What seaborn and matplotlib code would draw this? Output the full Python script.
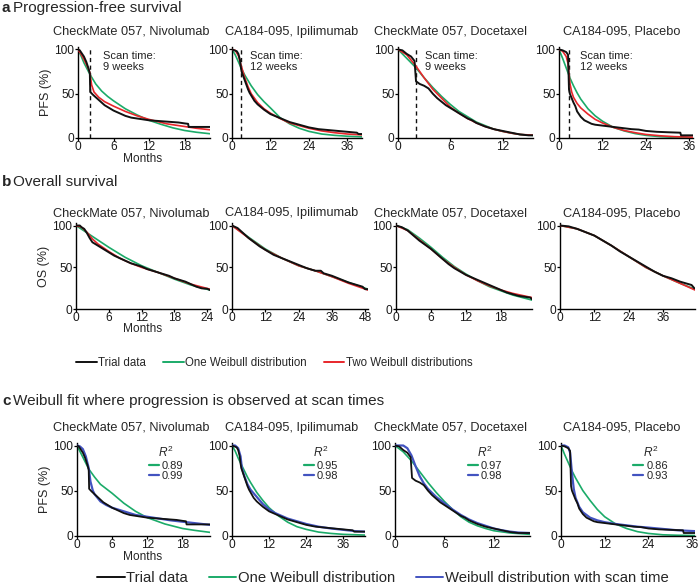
import numpy as np
import pandas as pd
import matplotlib
matplotlib.use("Agg")
import matplotlib.pyplot as plt
from matplotlib.lines import Line2D
import seaborn as sns

sns.set_style("ticks")
plt.rcParams['font.family'] = ['Liberation Sans', 'DejaVu Sans']
plt.rcParams['mathtext.fontset'] = 'custom'
plt.rcParams['mathtext.rm'] = 'Liberation Sans'
plt.rcParams['mathtext.it'] = 'Liberation Sans:italic'

# ---------------- data ----------------
titles = ["CheckMate 057, Nivolumab", "CA184-095, Ipilimumab",
          "CheckMate 057, Docetaxel", "CA184-095, Placebo"]
scan_weeks = [9, 12, 9, 12]
scan_months = [2.07, 2.76, 2.07, 2.76]
pfs_xmax_a = [22.3, 40.6, 15.5, 37.0]
pfs_xmax_c = [22.7, 43.0, 16.4, 36.8]
os_xmax = [24.5, 49.0, 23.3, 47.2]
pfs_xticks = [[0, 6, 12, 18], [0, 12, 24, 36], [0, 6, 12], [0, 12, 24, 36]]
os_xticks = [[0, 6, 12, 18, 24], [0, 12, 24, 36, 48], [0, 6, 12, 18], [0, 12, 24, 36]]
yticks = [0, 50, 100]
r2_one = ["0.89", "0.95", "0.97", "0.86"]
r2_scan = ["0.99", "0.98", "0.98", "0.93"]

# PFS trial data (Kaplan-Meier)
niv_pfs_t = [0, 0.3, 0.6, 1.0, 1.4, 1.8, 2.0, 2.07, 2.5, 3.0, 3.5, 4.0, 4.5, 5.0, 5.5, 6.0, 7.0, 8.0, 9.0,
             10.0, 11.0, 12.0, 13.0, 14.0, 15.0, 16.0, 17.0, 18.0, 18.6, 18.7, 21.0, 22.7]
niv_pfs_s = [100, 99, 96, 92, 86, 78, 73, 52, 49, 46, 43, 40, 37, 35, 33, 31, 28, 25, 23,
             22, 21, 20, 19.5, 19, 18.5, 18, 17.5, 16.5, 16, 12.5, 12.5, 12.5]
ipi_pfs_t = [0, 1.5, 2.0, 2.5, 2.76, 3.0, 3.5, 4.0, 4.5, 5.0, 5.5, 6.0, 7.0, 8.0, 9.0, 10.0, 11.0, 12.0,
             13.0, 14.0, 16.0, 18.0, 20.0, 22.0, 24.0, 27.0, 30.0, 33.0, 36.0, 39.0, 39.5, 43.0]
ipi_pfs_s = [100, 98, 95, 88, 80, 75, 70, 65, 60, 55, 51, 48, 42, 38, 35, 32, 29.5, 27,
             25.5, 24, 21, 18, 16, 14, 12, 10, 9, 8, 7, 6, 4.5, 4.5]
doc_pfs_t = [0, 0.5, 1.0, 1.5, 1.9, 2.07, 2.5, 3.0, 3.5, 4.0, 4.5, 5.0, 5.5, 6.0, 6.5, 7.0, 7.5, 8.0,
             8.5, 9.0, 9.5, 10.0, 11.0, 12.0, 13.0, 14.0, 15.0, 16.4]
doc_pfs_s = [100, 99, 95, 92, 87, 64, 61, 59, 56, 50, 45, 41, 37, 34, 31, 28, 25, 22,
             20, 17, 15, 13, 10, 8, 6, 4, 3, 3]
pla_pfs_t = [0, 1, 2, 2.5, 2.76, 3.0, 3.5, 4.0, 4.5, 5.0, 5.5, 6.0, 7.0, 8.0, 9.0, 10.0, 12.0, 14.0,
             16.0, 18.0, 20.0, 22.0, 24.0, 27.0, 30.0, 33.5, 33.7, 37.0]
pla_pfs_s = [100, 99, 97, 94, 55, 50, 45, 40, 36, 30, 27, 24, 20, 18, 16, 15, 14, 13,
             12, 11, 10, 9.5, 8, 7, 6.5, 6, 3, 3]

# PFS one-Weibull fits (panel a)
niv_w1_t = [0, 0.5, 1, 2, 3, 4, 5, 6, 8, 10, 12, 14, 16, 18, 20, 22.7]
niv_w1_s = [100, 93, 85, 72, 61, 53, 47, 42, 33, 26, 20, 15.5, 11.5, 8.5, 6.5, 4.5]
ipi_w1_t = [0, 1, 2, 3, 4, 6, 8, 10, 12, 15, 18, 21, 24, 28, 32, 36, 43]
ipi_w1_s = [100, 94, 86, 78, 71, 59, 49, 41, 34, 23, 16, 11, 7.5, 4.5, 3, 2, 1]
doc_w1_t = [0, 1, 2, 3, 4, 5, 6, 7, 8, 9, 10, 11, 12, 13, 14, 16.4]
doc_w1_s = [100, 90, 80, 68, 57, 47, 38, 30, 24, 18, 14, 10, 7.5, 5.5, 4, 2.3]
pla_w1_t = [0, 1, 2, 3, 4, 5, 6, 8, 10, 12, 15, 18, 21, 24, 28, 32, 37]
pla_w1_s = [100, 90, 79, 68, 59, 51, 44, 33, 25, 19, 12, 8, 5, 3, 1.5, 0.7, 0.3]

# PFS two-Weibull fits (panel a)
niv_w2_t = [0, 0.5, 1, 1.5, 2, 2.3, 2.7, 3.5, 4.5, 6, 8, 10, 12, 15, 18, 20, 22.7]
niv_w2_s = [100, 95, 89, 82, 74, 60, 52, 46, 41, 36, 30, 25, 21, 16, 13, 11, 9]
ipi_w2_t = [0, 1, 2, 3, 4, 5, 6, 8, 10, 12, 15, 18, 21, 24, 28, 32, 36, 43]
ipi_w2_s = [100, 99, 93, 80, 68, 58, 50, 40, 33, 28, 22, 17, 14, 11, 8, 6, 4.5, 3]
doc_w2_t = [0, 1, 2, 3, 4, 5, 6, 7, 8, 9, 10, 11, 12, 13, 14, 16.4]
doc_w2_s = [100, 94, 82, 68, 55, 45, 35, 28, 22, 17, 13, 10, 7.5, 5.5, 4, 2.8]
pla_w2_t = [0, 1, 2, 2.5, 2.76, 3, 3.5, 4, 5, 6, 8, 10, 12, 15, 18, 21, 24, 28, 32, 37]
pla_w2_s = [100, 98, 92, 84, 72, 62, 52, 46, 39, 34, 27, 21, 17, 12, 8.5, 6, 4, 2.5, 1.5, 1]

# OS trial data
niv_os_t = [0, 0.7, 1, 1.5, 2, 2.5, 3, 4, 5, 6, 7, 8, 9, 10, 11, 12, 13, 14, 15, 16, 17, 18, 19, 20,
            21, 22, 23, 24, 24.5]
niv_os_s = [100, 100, 98, 96, 91, 85, 80, 76, 72, 68, 64, 61, 58, 55, 53, 51, 48, 46, 44, 42, 40, 37,
            35, 33, 30, 27, 25, 24.5, 23]
ipi_os_t = [0, 2, 4, 6, 8, 10, 12, 15, 18, 21, 24, 27, 30, 32, 33, 36, 39, 42, 45, 47, 48, 49]
ipi_os_s = [100, 97, 91, 85, 80, 75, 71, 65, 61, 57, 53, 49, 46, 46, 43, 40, 36, 32, 29, 27, 24, 24]
doc_os_t = [0, 1, 2, 3, 4, 5, 6, 7, 8, 9, 10, 11, 12, 13, 14, 15, 16, 17, 18, 19, 20, 21, 22, 23, 23.3]
doc_os_s = [100, 98, 94, 88, 82, 77, 72, 66, 60, 54, 49, 45, 41, 38, 35, 32, 29, 26, 23, 20, 18, 16,
            15, 14, 12]
pla_os_t = [0, 3, 6, 9, 12, 15, 18, 21, 24, 27, 30, 33, 36, 39, 42, 44, 46, 47]
pla_os_s = [100, 99, 96, 92, 88, 82, 76, 69, 63, 57, 51, 45, 40, 37, 33, 31, 29, 25]

# OS one-Weibull fits
niv_os_w1_t = [0, 3, 6, 9, 12, 15, 18, 21, 24.5]
niv_os_w1_s = [100, 87, 74, 62, 52, 44, 36, 29, 23]
ipi_os_w1_t = [0, 6, 12, 18, 24, 30, 36, 42, 49]
ipi_os_w1_s = [100, 86, 72, 61, 52, 46, 39, 32, 24]
doc_os_w1_t = [0, 2, 4, 6, 8, 10, 12, 14, 16, 18, 20, 23.3]
doc_os_w1_s = [100, 95, 85, 74, 62, 51, 42, 34, 27, 22, 17, 11]
pla_os_w1_t = [0, 6, 12, 18, 24, 30, 36, 42, 47.2]
pla_os_w1_s = [100, 96, 88, 76, 63, 50, 40, 31, 24]

# OS two-Weibull fits
niv_os_w2_t = [0, 1, 2, 3, 4, 6, 8, 10, 12, 15, 18, 21, 24.5]
niv_os_w2_s = [100, 98, 92, 84, 78, 69, 61, 55, 50, 44, 37, 30, 24]
ipi_os_w2_t = [0, 6, 12, 18, 24, 30, 36, 42, 49]
ipi_os_w2_s = [100, 85, 71, 61, 52, 46, 39, 31, 23]
doc_os_w2_t = [0, 2, 4, 6, 8, 10, 12, 14, 16, 18, 20, 23.3]
doc_os_w2_s = [100, 94, 83, 72, 60, 50, 41, 34, 28, 23, 19, 14]
pla_os_w2_t = [0, 6, 12, 18, 24, 30, 36, 42, 47.2]
pla_os_w2_s = [100, 96, 88, 76, 63, 50, 40, 31, 23]

# panel c: one-Weibull fits
niv_c1_t = [0, 1, 2, 3, 4, 6, 8, 10, 12, 15, 18, 20, 22.7]
niv_c1_s = [100, 87, 74, 65, 57, 47, 36, 27, 20, 13, 8, 6, 3.7]
ipi_c1_t = [0, 1, 2, 3, 4, 5, 6, 8, 10, 12, 15, 18, 21, 24, 28, 32, 36, 43]
ipi_c1_s = [100, 94, 86, 79, 72, 65, 59, 48, 39, 31, 22, 15, 10, 7, 4, 2.5, 1.5, 0.7]
doc_c1_t = [0, 1, 2, 3, 4, 5, 6, 7, 8, 9, 10, 11, 12, 14, 16.4]
doc_c1_s = [100, 93, 83, 71, 59, 48, 38, 29, 21, 15, 11, 8, 5.5, 3, 1.5]
pla_c1_t = [0, 1, 2, 3, 4, 5, 6, 8, 10, 12, 15, 18, 21, 24, 28, 32, 37]
pla_c1_s = [100, 90, 81, 72, 64, 57, 50, 39, 29, 21, 13, 8, 4.5, 2.5, 1, 0.5, 0.2]

# panel c: Weibull with scan time
niv_sc_t = [0, 0.5, 1, 1.5, 2, 2.3, 2.7, 3, 3.5, 4, 5, 6, 8, 10, 12, 14, 16, 18, 20, 22.7]
niv_sc_s = [100, 99, 96, 88, 75, 60, 50, 46, 42, 38, 34, 31, 27, 23, 21, 19, 17, 15.5, 14, 12]
ipi_sc_t = [0, 1, 2, 2.76, 3.2, 4, 5, 6, 7, 8, 9, 10, 12, 14, 16, 18, 21, 24, 28, 32, 36, 40, 43]
ipi_sc_s = [100, 100, 97, 88, 75, 66, 57, 51, 47, 43, 39, 35, 29, 25, 22, 19, 16, 13, 10, 8, 6.5, 5, 4.5]
doc_sc_t = [0, 1, 1.5, 2, 2.5, 3, 3.5, 4, 5, 6, 7, 8, 9, 10, 11, 12, 13, 14, 15, 16.4]
doc_sc_s = [100, 100, 97, 89, 77, 66, 58, 52, 43, 36, 29, 23, 18, 14, 11, 8, 6, 4.5, 3.5, 3]
pla_sc_t = [0, 1, 2, 2.5, 3, 3.5, 4, 5, 6, 8, 10, 12, 15, 18, 21, 24, 28, 32, 37]
pla_sc_s = [100, 100, 98, 92, 70, 52, 42, 32, 26, 20, 17, 15, 13, 11.5, 10, 9, 7.5, 6, 5]

pfs_trial = [(niv_pfs_t, niv_pfs_s), (ipi_pfs_t, ipi_pfs_s), (doc_pfs_t, doc_pfs_s), (pla_pfs_t, pla_pfs_s)]
pfs_w1 = [(niv_w1_t, niv_w1_s), (ipi_w1_t, ipi_w1_s), (doc_w1_t, doc_w1_s), (pla_w1_t, pla_w1_s)]
pfs_w2 = [(niv_w2_t, niv_w2_s), (ipi_w2_t, ipi_w2_s), (doc_w2_t, doc_w2_s), (pla_w2_t, pla_w2_s)]
os_trial = [(niv_os_t, niv_os_s), (ipi_os_t, ipi_os_s), (doc_os_t, doc_os_s), (pla_os_t, pla_os_s)]
os_w1 = [(niv_os_w1_t, niv_os_w1_s), (ipi_os_w1_t, ipi_os_w1_s), (doc_os_w1_t, doc_os_w1_s), (pla_os_w1_t, pla_os_w1_s)]
os_w2 = [(niv_os_w2_t, niv_os_w2_s), (ipi_os_w2_t, ipi_os_w2_s), (doc_os_w2_t, doc_os_w2_s), (pla_os_w2_t, pla_os_w2_s)]
c_w1 = [(niv_c1_t, niv_c1_s), (ipi_c1_t, ipi_c1_s), (doc_c1_t, doc_c1_s), (pla_c1_t, pla_c1_s)]
c_sc = [(niv_sc_t, niv_sc_s), (ipi_sc_t, ipi_sc_s), (doc_sc_t, doc_sc_s), (pla_sc_t, pla_sc_s)]

# ---------------- style ----------------
BLACK = "#111111"
GREEN = "#1bab69"
RED = "#e8262b"
BLUE = "#4253c0"
W, H = 699, 584
TICK_FS = 8.6
TITLE_FS = 9.2

fig = plt.figure(figsize=(W / 100, H / 100), dpi=100)


def add_ax(left, right, top, bottom):
    return fig.add_axes([left / W, 1 - bottom / H, (right - left) / W, (bottom - top) / H])


def style_ax(ax, xmax, xticks):
    ax.set_xlim(0, xmax)
    ax.set_ylim(0, 103)
    ax.set_xticks(xticks)
    ax.set_yticks(yticks)
    for s in ("top", "right"):
        ax.spines[s].set_visible(False)
    for s in ("left", "bottom"):
        ax.spines[s].set_linewidth(1.0)
        ax.spines[s].set_color("black")
    ax.tick_params(axis="both", direction="out", length=2.0, width=0.9, labelsize=TICK_FS,
                   color="black", labelcolor="#1a1a1a")
    ax.tick_params(axis="x", pad=0.2)
    ax.tick_params(axis="y", pad=0.6)
    ax.set_xlabel("")
    ax.set_ylabel("")


def curve(ax, data, color, lw, z=2):
    t, s = data
    sns.lineplot(x=t, y=s, ax=ax, color=color, lw=lw, estimator=None, sort=False,
                 legend=False, zorder=z)


# axes geometry (pixels)
a_cols = [(78, 210), (232, 362), (398, 533), (559, 693)]
b_cols = [(76, 210), (232, 368), (396, 532), (560, 695)]
c_cols = [(77, 210), (232, 365), (395, 530), (561, 695)]
a_rows = (46.8, 138.0)
b_rows = (223.0, 309.3)
c_rows = (442.8, 535.7)
title_cx = [131, 292, 451, 622]
scan_text_x = [0.19, 0.14, 0.20, 0.157]

# ---------------- panel a ----------------
for i in range(4):
    ax = add_ax(a_cols[i][0], a_cols[i][1], *a_rows)
    curve(ax, pfs_w1[i], GREEN, 1.2, z=2)
    curve(ax, pfs_w2[i], RED, 1.2, z=3)
    curve(ax, pfs_trial[i], BLACK, 1.4, z=4)
    ax.axvline(scan_months[i], ymin=0, ymax=100 / 103, color=BLACK, lw=1.0, ls=(0, (3, 2.5)), zorder=1)
    ax.text(scan_text_x[i], 0.955, f"Scan time:\n{scan_weeks[i]} weeks", transform=ax.transAxes,
            ha="left", va="top", fontsize=8.0, linespacing=1.15, color="#222222")
    style_ax(ax, pfs_xmax_a[i], pfs_xticks[i])
    fig.text(title_cx[i] / W, 1 - 32 / H, titles[i], ha="center", va="center", fontsize=TITLE_FS)
    if i == 0:
        ax.set_ylabel("PFS (%)", fontsize=9.0, labelpad=2)
        fig.text(143 / W, 1 - 158.5 / H, "Months", ha="center", va="center", fontsize=TICK_FS)

# ---------------- panel b ----------------
for i in range(4):
    ax = add_ax(b_cols[i][0], b_cols[i][1], *b_rows)
    curve(ax, os_w1[i], GREEN, 1.2, z=2)
    curve(ax, os_w2[i], RED, 1.2, z=3)
    curve(ax, os_trial[i], BLACK, 1.4, z=4)
    style_ax(ax, os_xmax[i], os_xticks[i])
    fig.text(title_cx[i] / W, 1 - 213 / H, titles[i], ha="center", va="center", fontsize=TITLE_FS)
    if i == 0:
        ax.set_ylabel("OS (%)", fontsize=9.0, labelpad=2)
        fig.text(143 / W, 1 - 329.5 / H, "Months", ha="center", va="center", fontsize=TICK_FS)

# ---------------- panel c ----------------
for i in range(4):
    ax = add_ax(c_cols[i][0], c_cols[i][1], *c_rows)
    curve(ax, c_w1[i], GREEN, 1.2, z=2)
    curve(ax, c_sc[i], BLUE, 1.6, z=3)
    curve(ax, pfs_trial[i], BLACK, 1.3, z=4)
    style_ax(ax, pfs_xmax_c[i], pfs_xticks[i])
    fig.text(title_cx[i] / W, 1 - 427.5 / H, titles[i], ha="center", va="center", fontsize=TITLE_FS)
    hnd = [Line2D([], [], color=GREEN, lw=1.6), Line2D([], [], color=BLUE, lw=1.6)]
    leg = ax.legend(hnd, [r2_one[i], r2_scan[i]], title=r"$R^2$", loc="upper left",
                    bbox_to_anchor=(0.48, 1.06), frameon=False, fontsize=8.0, title_fontsize=8.6,
                    handlelength=0.9, handletextpad=0.3, labelspacing=0.05, borderpad=0.2)
    if i == 0:
        ax.set_ylabel("PFS (%)", fontsize=9.0, labelpad=2)
        fig.text(143 / W, 1 - 557 / H, "Months", ha="center", va="center", fontsize=TICK_FS)

# ---------------- panel headings ----------------
heads = [("a", "Progression-free survival", 8), ("b", "Overall survival", 182),
         ("c", "Weibull fit where progression is observed at scan times", 401)]
for letter, txt, yc in heads:
    fig.text(2 / W, 1 - yc / H, letter, ha="left", va="center", fontsize=11, fontweight="bold")
    fig.text(13 / W, 1 - yc / H, txt, ha="left", va="center", fontsize=11)

# ---------------- figure legends ----------------
h1 = [Line2D([], [], color=BLACK, lw=1.4), Line2D([], [], color=GREEN, lw=1.4),
      Line2D([], [], color=RED, lw=1.4)]
fig.legend(h1, ["Trial data", "One Weibull distribution", "Two Weibull distributions"],
           loc="center", bbox_to_anchor=(274 / W, 1 - 363 / H), ncol=3, frameon=False,
           fontsize=8.3, handlelength=1.8, handletextpad=0.1, columnspacing=1.5, borderpad=0)
h2 = [Line2D([], [], color=BLACK, lw=1.4), Line2D([], [], color=GREEN, lw=1.4),
      Line2D([], [], color=BLUE, lw=1.4)]
fig.legend(h2, ["Trial data", "One Weibull distribution", "Weibull distribution with scan time"],
           loc="center", bbox_to_anchor=(383 / W, 1 - 578 / H), ncol=3, frameon=False,
           fontsize=10.7, handlelength=1.85, handletextpad=0.1, columnspacing=1.4, borderpad=0)

fig.savefig("out.png", dpi=100)
